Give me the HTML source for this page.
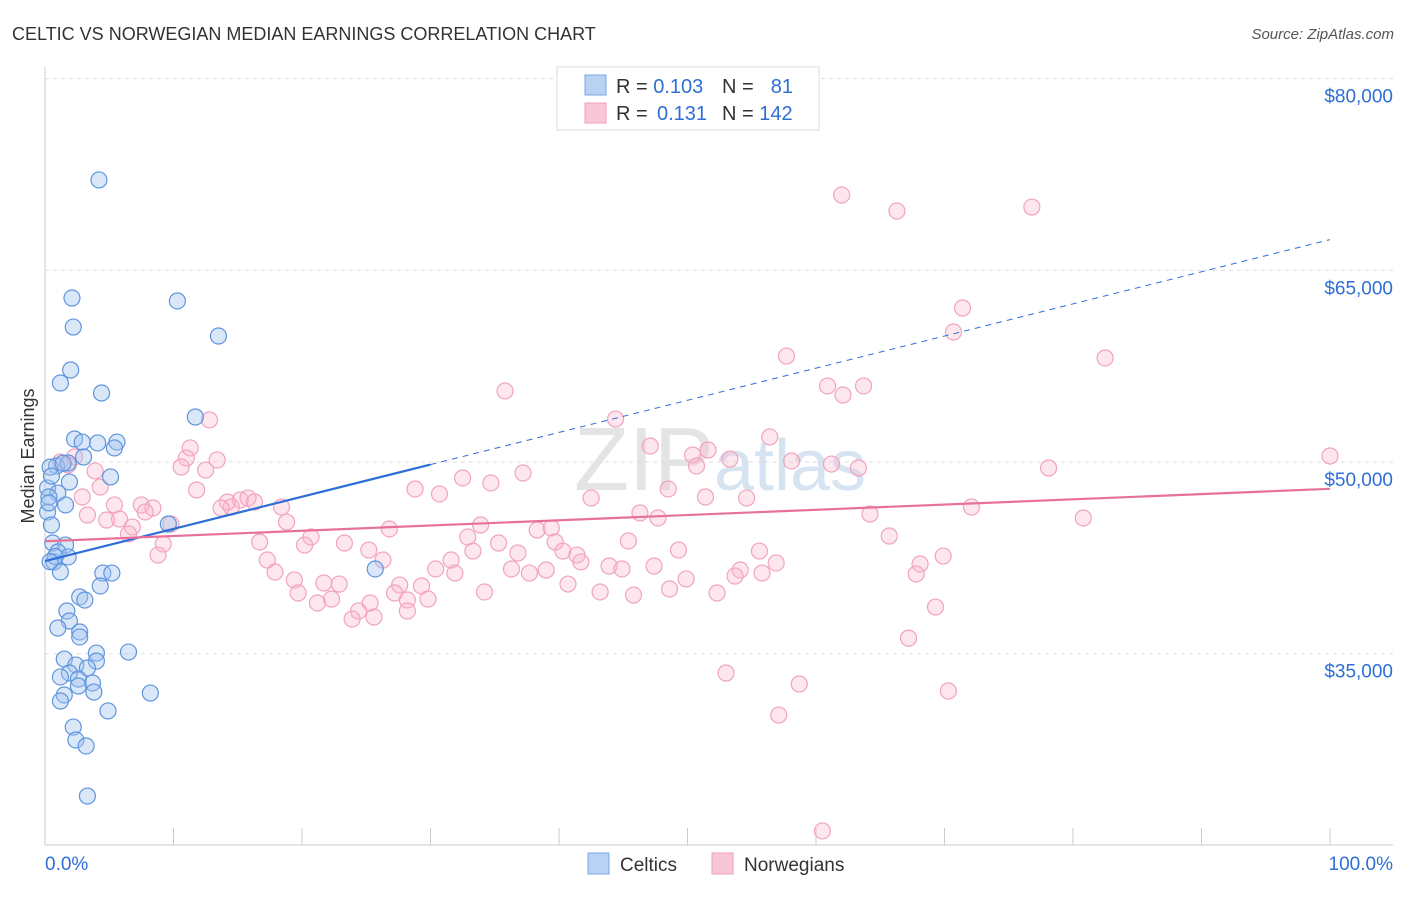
<!DOCTYPE html>
<html><head><meta charset="utf-8"><style>
body{margin:0;background:#fff;font-family:"Liberation Sans",sans-serif;}
svg text{font-family:"Liberation Sans",sans-serif;}
</style></head><body>
<svg id="chart" width="1406" height="892" xmlns="http://www.w3.org/2000/svg">
<text x="12" y="40" font-size="18" fill="#333">CELTIC VS NORWEGIAN MEDIAN EARNINGS CORRELATION CHART</text>
<text x="1394" y="39" font-size="15" fill="#555" font-style="italic" text-anchor="end">Source: ZipAtlas.com</text>
<text transform="translate(34,456) rotate(-90)" font-size="18" fill="#333" text-anchor="middle">Median Earnings</text>
<text x="720" y="490" font-size="90" fill="#e4e4e4" text-anchor="middle" font-family="Liberation Serif">ZIP<tspan fill="#d6e4f2" font-family="Liberation Sans" font-size="72">atlas</tspan></text>
<g id="grid"></g><g id="axes"></g><g id="pts"></g><g id="lines"></g>
<g>
<rect x="557" y="67" width="262" height="63" fill="#fff" stroke="#ddd"/>
<rect x="585" y="75" width="21" height="20" fill="#b8d2f4" stroke="#7aa7e4"/>
<rect x="585" y="103" width="21" height="20" fill="#f9c6d5" stroke="#f0a0bb"/>
<text x="616" y="93" font-size="20" fill="#333">R = <tspan fill="#2e6fd6">0.103</tspan></text>
<text x="722" y="93" font-size="20" fill="#333">N =</text><text x="793" y="93" font-size="20" fill="#2e6fd6" text-anchor="end">81</text>
<text x="616" y="120" font-size="20" fill="#333">R = </text><text x="657" y="120" font-size="20" fill="#2e6fd6">0.131</text>
<text x="722" y="120" font-size="20" fill="#333">N = <tspan fill="#2e6fd6">142</tspan></text>
</g>
<g>
<rect x="588" y="853" width="21" height="21" fill="#b8d2f4" stroke="#7aa7e4"/>
<text x="620" y="871" font-size="19" fill="#333">Celtics</text>
<rect x="712" y="853" width="21" height="21" fill="#f9c6d5" stroke="#f0a0bb"/>
<text x="744" y="871" font-size="19" fill="#333">Norwegians</text>
</g>
</svg>
<script>
const yTicks=[35000,50000,65000,80000];
const yTickLabels=["$35,000","$50,000","$65,000","$80,000"];
const celticX=[4.2,2.1,10.3,2.2,13.5,2.0,1.2,4.4,11.7,2.3,2.9,4.1,5.6,5.4,3.0,0.9,1.8,5.1,1.9,0.2,1.0,0.3,1.6,0.2,0.5,9.6,0.6,1.6,1.0,1.8,0.7,1.2,4.5,5.2,25.7,4.3,2.7,3.1,1.7,1.9,1.0,2.7,2.7,6.5,4.0,1.5,4.0,2.4,3.3,1.9,1.2,2.6,3.7,2.6,3.8,1.5,8.2,1.2,4.9,2.2,2.4,3.2,3.3,0.4,0.5,0.3,0.8,1.4,0.4];
const celticY=[72070,62830,62600,60560,59860,57200,56180,55400,53520,51800,51560,51490,51560,51100,50390,49690,49920,48830,48430,47970,47570,47260,46640,46090,45070,45150,43660,43500,42960,42570,42180,41390,41310,41310,41630,40300,39440,39200,38340,37560,37010,36700,36310,35130,35050,34580,34420,34110,33880,33490,33180,33020,32710,32470,32000,31770,31920,31300,30520,29260,28250,27780,23860,49600,48900,46800,42600,49900,42200];
const norX=[62.0,66.3,76.8,71.4,70.7,57.7,82.5,35.8,60.9,63.7,62.1,12.8,44.4,56.4,47.1,11.3,51.6,53.3,11.0,13.4,58.1,50.4,100,1.2,2.3,1.8,10.6,12.5,3.9,50.7,61.2,63.3,78.1,32.5,37.2,34.7,4.3,11.8,28.8,48.5,30.7,2.9,42.5,51.4,54.6,7.5,8.4,14.5,15.2,15.8,16.3,14.2,13.7,18.4,5.4,7.8,3.3,46.3,47.7,64.2,72.1,80.8,4.8,5.8,18.8,9.8,6.8,33.9,26.8,38.3,39.4,6.5,32.9,20.7,65.7,16.7,23.3,39.7,35.3,9.2,20.2,45.4,25.2,33.3,36.8,40.3,41.4,49.3,55.6,8.8,26.3,31.6,41.7,43.9,47.4,56.9,69.9,68.1,17.3,17.9,30.4,31.9,36.3,37.7,39.0,44.9,54.1,55.8,53.7,67.8,19.4,21.7,22.9,27.6,29.3,40.7,49.9,19.7,34.2,27.2,43.2,45.8,48.6,52.3,22.3,25.3,28.2,29.8,21.2,24.4,28.2,23.9,25.6,69.3,67.2,53.0,58.7,70.3,57.1,60.5];
const norY=[70890,69640,69950,62050,60170,58290,58140,55560,55950,55950,55240,53290,53360,51960,51250,51100,50940,50230,50310,50160,50080,50550,50470,50000,50390,49770,49610,49370,49300,49690,49840,49530,49530,48750,49140,48360,48040,47810,47890,47890,47500,47260,47180,47260,47180,46640,46400,46480,47030,47180,46870,46870,46400,46480,46640,46090,45850,46010,45620,45930,46480,45620,45460,45540,45300,45150,44910,45070,44760,44680,44840,44370,44130,44130,44210,43740,43660,43740,43660,43580,43500,43820,43110,43030,42880,43030,42720,43110,43030,42720,42330,42330,42180,41860,41860,42100,42640,42020,42330,41390,41630,41310,41630,41310,41550,41630,41550,41310,41080,41240,40770,40530,40450,40370,40300,40450,40850,39750,39830,39750,39830,39590,40060,39750,39280,38970,39200,39280,38970,38340,38340,37710,37870,38650,36220,33490,32630,32080,30200,21130];
const celticTrend=[0,42250,30,49800,100,67400];
const norTrend=[0,43800,100,47900];
const NS="http://www.w3.org/2000/svg";
const X=p=>45+p*12.85;
const Y=v=>462-(v-50000)*191.7/15000;
function mk(parent,tag,attrs){const e=document.createElementNS(NS,tag);for(const k in attrs)e.setAttribute(k,attrs[k]);document.getElementById(parent).appendChild(e);return e;}
yTicks.forEach((v,i)=>{
 const l=mk('grid','line',{x1:45,x2:1393,y1:Y(v),y2:Y(v),stroke:'#ddd','stroke-dasharray':'4,4'});
 
 
 const t=mk('grid','text',{x:1393,y:Y(v)+24,'font-size':19,fill:'#2e6fd6','text-anchor':'end'});
 t.textContent=yTickLabels[i];
 
 
});
const ax=mk('axes','line',{x1:45,x2:45,y1:67,y2:845,stroke:'#ccc'});


const bx=mk('axes','line',{x1:45,x2:1393,y1:845,y2:845,stroke:'#ccc'});


for(let i=0;i<=10;i++){const t=mk('axes','line',{x1:X(i*10),x2:X(i*10),y1:828,y2:845,stroke:'#ccc'});
 
 }
const xl=mk('axes','text',{x:45,y:870,'font-size':19,fill:'#2e6fd6'});xl.textContent='0.0%';


const xr=mk('axes','text',{x:1393,y:870,'font-size':19,fill:'#2e6fd6','text-anchor':'end'});xr.textContent='100.0%';


norX.forEach((x,i)=>{const c=mk('pts','circle',{cx:X(x),cy:Y(norY[i]),r:8,fill:'rgba(248,182,204,0.35)',stroke:'#f2a3bd','stroke-width':1.2});
 
 });
celticX.forEach((x,i)=>{const c=mk('pts','circle',{cx:X(x),cy:Y(celticY[i]),r:8,fill:'rgba(160,196,240,0.4)',stroke:'#5f95dc','stroke-width':1.2});
 
 });
const cs=mk('lines','line',{x1:X(celticTrend[0]),y1:Y(celticTrend[1]),x2:X(celticTrend[2]),y2:Y(celticTrend[3]),stroke:'#2e6fd6','stroke-width':2.2});


const cd=mk('lines','line',{x1:X(celticTrend[2]),y1:Y(celticTrend[3]),x2:X(celticTrend[4]),y2:Y(celticTrend[5]),stroke:'#2e6fd6','stroke-width':1,'stroke-dasharray':'6,5'});


const nl=mk('lines','line',{x1:X(norTrend[0]),y1:Y(norTrend[1]),x2:X(norTrend[2]),y2:Y(norTrend[3]),stroke:'#e8719a','stroke-width':2.2});


</script>
</body></html>
